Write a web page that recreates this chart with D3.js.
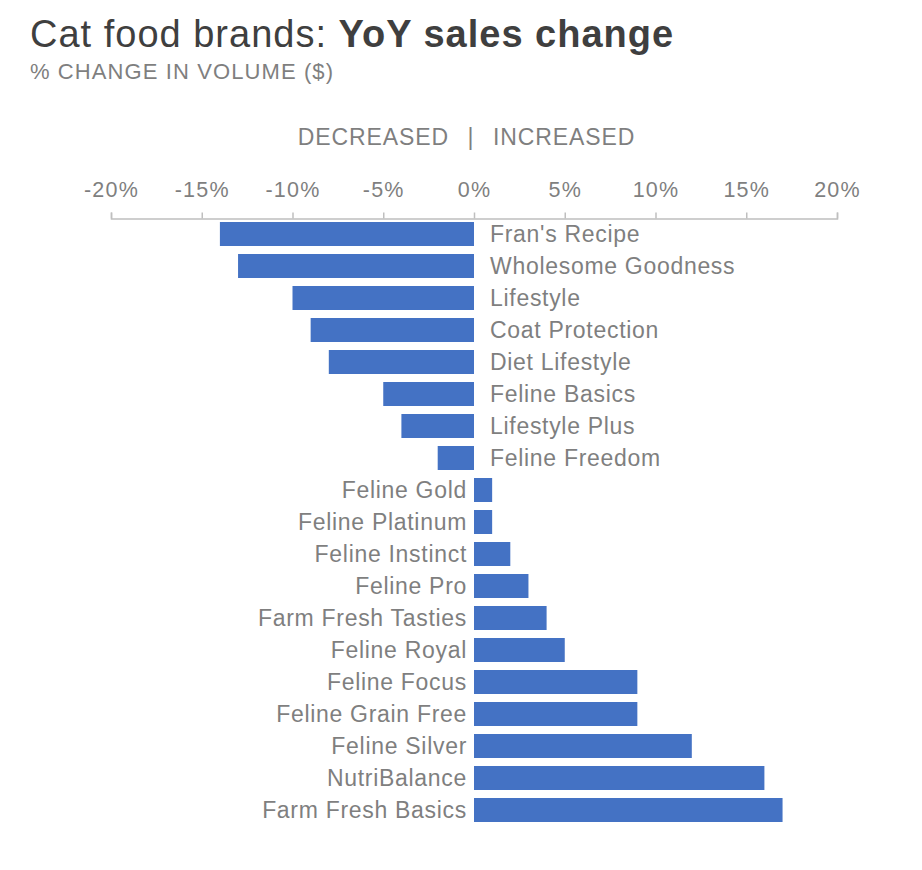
<!DOCTYPE html>
<html>
<head>
<meta charset="utf-8">
<script src="https://cdn.jsdelivr.net/npm/d3@7"></script>
<style>
  body { margin: 0; background: #fff; }
  text { font-family: "Liberation Sans", Arial, sans-serif; }
</style>
</head>
<body>
<script>
const width = 922;
const height = 870;

// データ
const brands = ["Fran's Recipe", "Wholesome Goodness", "Lifestyle", "Coat Protection",
  "Diet Lifestyle", "Feline Basics", "Lifestyle Plus", "Feline Freedom", "Feline Gold",
  "Feline Platinum", "Feline Instinct", "Feline Pro", "Farm Fresh Tasties", "Feline Royal",
  "Feline Focus", "Feline Grain Free", "Feline Silver", "NutriBalance", "Farm Fresh Basics"];
const change = [-14, -13, -10, -9, -8, -5, -4, -2, 1, 1, 2, 3, 4, 5, 9, 9, 12, 16, 17];
const tickValues = [-20, -15, -10, -5, 0, 5, 10, 15, 20];

const barColor = "#4472C4";
const grey = "#7f7f7f";

const svg = d3.select("body").append("svg")
  .attr("width", width)
  .attr("height", height);

// タイトル
const title = svg.append("text")
  .attr("x", 30)
  .attr("y", 47)
  .attr("fill", "#3f3f3f")
  .style("font-size", "38px")
  .style("letter-spacing", "1px");
title.append("tspan").text("Cat food brands: ");
title.append("tspan").attr("font-weight", "bold").text("YoY sales change");

svg.append("text")
  .attr("x", 30)
  .attr("y", 79)
  .attr("fill", grey)
  .style("font-size", "22px")
  .style("letter-spacing", "1.1px")
  .text("% CHANGE IN VOLUME ($)");

// スケール
const x = d3.scaleLinear().domain([-20, 20]).range([111, 837]);
const y = d3.scaleBand().domain(brands).range([218, 826])
  .paddingInner(0.25).paddingOuter(0.125);

// DECREASED | INCREASED
const hdr = svg.append("g")
  .attr("fill", grey)
  .style("font-size", "23px")
  .style("letter-spacing", "0.9px");
hdr.append("text").attr("x", x(0) - 25).attr("y", 145).attr("text-anchor", "end").text("DECREASED");
hdr.append("text").attr("x", x(0) - 3).attr("y", 145).attr("text-anchor", "middle").text("|");
hdr.append("text").attr("x", x(0) + 19).attr("y", 145).text("INCREASED");

// 軸
const axis = svg.append("g")
  .attr("transform", "translate(0,218.5)")
  .call(d3.axisTop(x).tickValues(tickValues).tickSize(6).tickSizeOuter(6)
    .tickFormat(d => d + "%"));
axis.selectAll("path, line").attr("stroke", "#bfbfbf").attr("stroke-width", 1.5);
axis.selectAll("text")
  .attr("fill", grey)
  .attr("y", -22)
  .attr("dy", 0)
  .style("font-family", "'Liberation Sans', Arial, sans-serif")
  .style("font-size", "21.5px")
  .style("letter-spacing", "1.2px");

// バー
svg.append("g").selectAll("rect")
  .data(brands)
  .join("rect")
  .attr("x", (d, i) => x(Math.min(0, change[i])))
  .attr("y", d => y(d))
  .attr("width", (d, i) => Math.abs(x(change[i]) - x(0)))
  .attr("height", y.bandwidth())
  .attr("fill", barColor);

// ラベル
svg.append("g").selectAll("text")
  .data(brands)
  .join("text")
  .attr("x", (d, i) => change[i] < 0 ? x(0) + 16 : x(0) - 7)
  .attr("y", d => y(d) + y.bandwidth() / 2)
  .attr("dy", "0.36em")
  .attr("text-anchor", (d, i) => change[i] < 0 ? "start" : "end")
  .attr("fill", grey)
  .style("font-size", "23px")
  .style("letter-spacing", "0.7px")
  .text(d => d);
</script>
</body>
</html>
